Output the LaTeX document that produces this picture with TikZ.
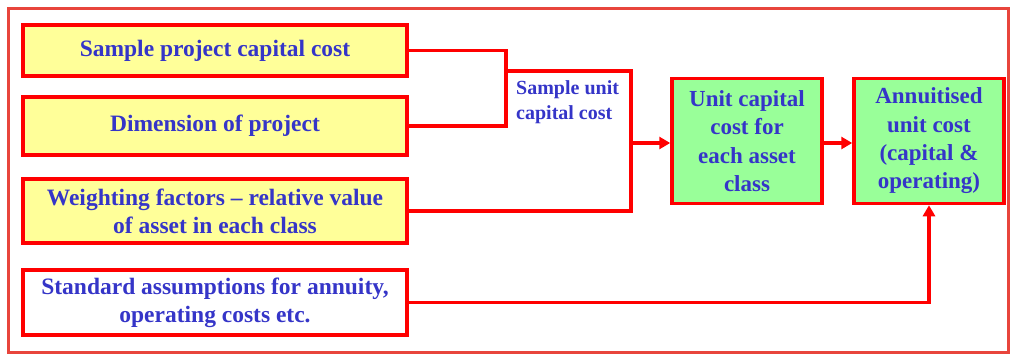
\documentclass[tikz,border=0pt]{standalone}
\usepackage{fontspec}
\setmainfont{Liberation Serif}
\usetikzlibrary{arrows.meta}
\definecolor{frameRed}{HTML}{E8453C}
\definecolor{lineRed}{HTML}{FF0000}
\definecolor{txtBlue}{HTML}{3535C8}
\definecolor{paleYellow}{HTML}{FFFF99}
\definecolor{paleGreen}{HTML}{99FF99}
\tikzset{
  inbox/.style={draw=lineRed, line width=3.5pt, fill=paleYellow, minimum width=384pt,
    inner sep=0pt, align=center, text=txtBlue, font=\bfseries\fontsize{23.5}{28}\selectfont},
  outbox/.style={draw=lineRed, line width=3.5pt, fill=paleGreen, minimum width=150pt,
    minimum height=125pt, inner sep=0pt, align=center, text=txtBlue,
    font=\bfseries\fontsize{23}{28.3}\selectfont},
  link/.style={draw=lineRed, line width=3.5pt},
  flow/.style={link, -{Triangle[length=11pt,width=12pt]}}
}
\begin{document}
\begin{tikzpicture}[x=1pt,y=-1pt]
\useasboundingbox (0,0) rectangle (1010,356);
% outer frame
\draw[frameRed, line width=3pt] (8,8) rectangle (1008,352);

% inputs
\node[inbox, minimum height=51pt] (b1) at (215,50.5) {Sample project capital cost};
\node[inbox, minimum height=58pt] (b2) at (215,126) {Dimension of project};
\node[inbox, minimum height=64pt] (b3) at (215,211) {Weighting factors -- relative value\\of asset in each class};
\node[inbox, fill=white, minimum height=65pt] (b4) at (215,302.5) {Standard assumptions for annuity,\\operating costs etc.};

% outputs
\node[outbox] (g1) at (747,141) {Unit capital\\cost for\\each asset\\class};
\node[outbox] (g2) at (929,141) {Annuitised\\unit cost\\(capital \&\\operating)};

% junction points
\coordinate (jt) at (506,71);
\coordinate (jr) at (631,143);

\node[anchor=north west, inner sep=0pt, align=left, text=txtBlue,
  font=\bfseries\fontsize{20}{25}\selectfont] (lbl) at (516,80) {Sample unit\\capital cost};

% connectors
\draw[link] (b1.east) -| (jt) |- (b2.east);
\draw[link] (jt) -| (jr) |- (b3.east);
\draw[flow] (jr) -- (jr -| g1.west);
\draw[flow] (g1.east |- jr) -- (g2.west |- jr);
\draw[flow] (b4.east) -| (g2.south);
\end{tikzpicture}
\end{document}
